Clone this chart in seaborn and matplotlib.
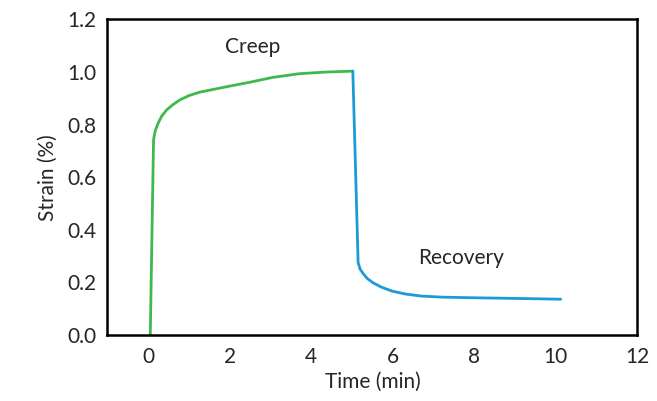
import matplotlib
matplotlib.use("Agg")
import matplotlib.pyplot as plt
import seaborn as sns
import pandas as pd

# Creep step
creep_time = [0.05, 0.13, 0.15, 0.18, 0.24, 0.33, 0.45, 0.6, 0.77, 1.0,
              1.26, 1.55, 2.0, 2.5, 3.05, 3.7, 4.3, 5.02]
creep_strain = [0.0, 0.74, 0.76, 0.78, 0.804, 0.832, 0.855, 0.875, 0.893, 0.91,
                0.923, 0.932, 0.946, 0.961, 0.979, 0.993, 0.999, 1.003]

# Recovery step
recovery_time = [5.02, 5.15, 5.2, 5.28, 5.38, 5.52, 5.72, 5.98, 6.3, 6.7,
                 7.2, 7.8, 8.6, 9.4, 10.12]
recovery_strain = [1.003, 0.275, 0.25, 0.232, 0.214, 0.198, 0.182, 0.167, 0.156, 0.148,
                   0.144, 0.142, 0.14, 0.138, 0.136]

creep = pd.DataFrame({"time": creep_time, "strain": creep_strain})
recovery = pd.DataFrame({"time": recovery_time, "strain": recovery_strain})

sns.set_style("white")
plt.rcParams["font.family"] = ["Lato", "DejaVu Sans"]

fig = plt.figure(figsize=(6.57, 4.01), dpi=100)
ax = fig.add_axes([0.1636, 0.1646, 0.8064, 0.7873])

sns.lineplot(data=creep, x="time", y="strain", sort=False, color="#3dba4b",
             linewidth=2.0, ax=ax)
sns.lineplot(data=recovery, x="time", y="strain", sort=False, color="#1b9bd7",
             linewidth=2.0, ax=ax)

ax.set_xlim(-1, 12)
ax.set_ylim(0, 1.2)
ax.set_xticks([-1, 0, 2, 4, 6, 8, 10, 12])
ax.set_xticklabels(["", "0", "2", "4", "6", "8", "10", "12"])
ax.set_yticks([0, 0.2, 0.4, 0.6, 0.8, 1.0, 1.2])
ax.set_yticklabels(["0.0", "0.2", "0.4", "0.6", "0.8", "1.0", "1.2"])

ax.set_xlabel("Time (min)", fontsize=15, labelpad=3)
ax.set_ylabel("Strain (%)", fontsize=15, labelpad=7)

ax.tick_params(axis="both", which="major", labelsize=15, width=1.8, length=4,
               direction="out", color="black", pad=5)
ax.tick_params(axis="y", pad=4)

for spine in ["top", "right", "bottom", "left"]:
    ax.spines[spine].set_linewidth(1.8)
    ax.spines[spine].set_color("black")

ax.text(2.57, 1.095, "Creep", fontsize=15, ha="center", va="center")
ax.text(7.68, 0.291, "Recovery", fontsize=15, ha="center", va="center")

plt.savefig("out.png", dpi=100)
